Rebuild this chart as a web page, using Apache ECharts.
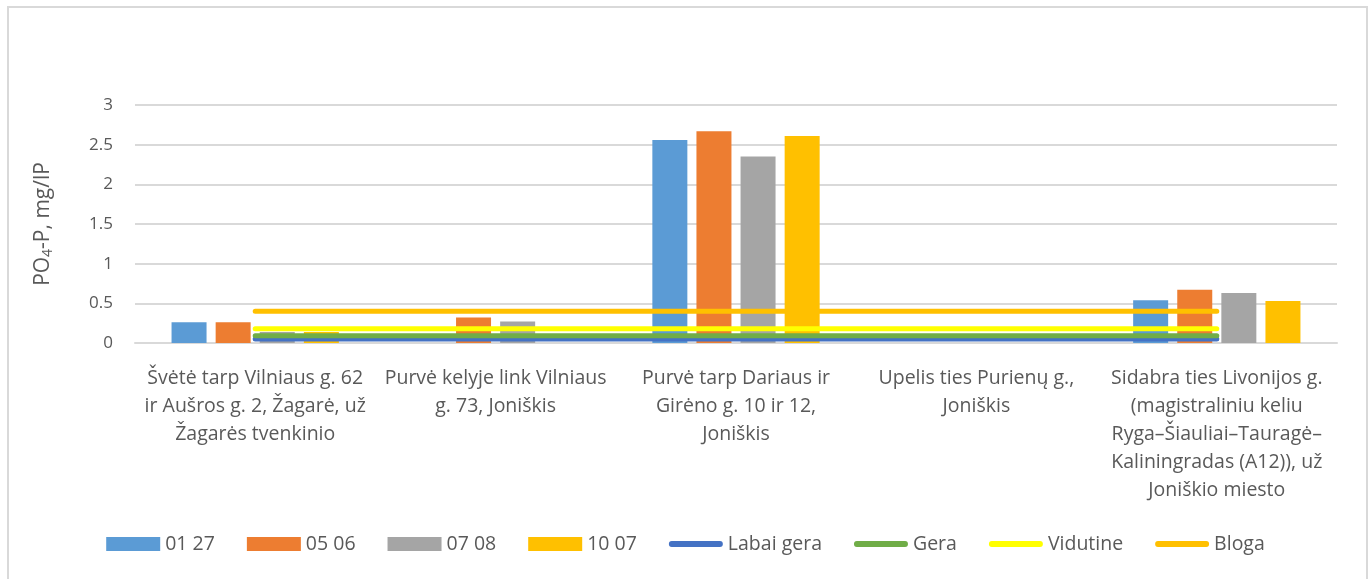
<!DOCTYPE html>
<html>
<head>
<meta charset="utf-8">
<script src="https://cdn.jsdelivr.net/npm/echarts@6/dist/echarts.min.js"></script>
<style>
  html, body { margin: 0; padding: 0; background: #fff; }
  #chart { width: 1371px; height: 579px; }
</style>
</head>
<body>
<div id="chart"></div>
<script>
// vietos (kategorijos)
const categories = [
  'Švėtė tarp Vilniaus g. 62\nir Aušros g. 2, Žagarė, už\nŽagarės tvenkinio',
  'Purvė kelyje link Vilniaus\ng. 73, Joniškis',
  'Purvė tarp Dariaus ir\nGirėno g. 10 ir 12,\nJoniškis',
  'Upelis ties Purienų g.,\nJoniškis',
  'Sidabra ties Livonijos g.\n(magistraliniu keliu\nRyga–Šiauliai–Tauragė–\nKaliningradas (A12)), už\nJoniškio miesto'
];
// matavimai
const d0127 = [0.26, 0, 2.56, 0, 0.54];
const d0506 = [0.26, 0.32, 2.67, 0, 0.67];
const d0708 = [0.14, 0.27, 2.35, 0, 0.63];
const d1007 = [0.14, 0, 2.61, 0, 0.53];
// klasiu ribos
const labaiGera = [0.05, 0.05, 0.05, 0.05, 0.05];
const gera = [0.09, 0.09, 0.09, 0.09, 0.09];
const vidutine = [0.18, 0.18, 0.18, 0.18, 0.18];
const bloga = [0.4, 0.4, 0.4, 0.4, 0.4];
const yTicks = [0, 0.5, 1, 1.5, 2, 2.5, 3];

window.onload = () => {
    let chart = echarts.init(document.getElementById('chart'));
    const font = '"Open Sans", sans-serif';
    const txt = '#595959';
    const lineIcon = 'path://M3,0 L53,0 A3,3 0 0 1 53,6 L3,6 A3,3 0 0 1 3,0 Z';

    function bar(name, data, color) {
        return {
            name: name, type: 'bar', data: data,
            barWidth: 35, barGap: '26%',
            itemStyle: { color: color }
        };
    }
    function line(name, data, color) {
        return {
            name: name, type: 'line', data: data,
            symbol: 'none',
            lineStyle: { color: color, width: 5, cap: 'round' },
            itemStyle: { color: color }
        };
    }

    let option = {
        animation: false,
        textStyle: { fontFamily: font },
        graphic: [{
            type: 'rect',
            shape: { x: 8, y: 7, width: 1359, height: 600 },
            style: { fill: 'none', stroke: '#d9d9d9', lineWidth: 2 }
        }],
        grid: { left: 135, right: 34, top: 105, bottom: 236 },
        legend: {
            bottom: 20,
            left: 'center',
            itemWidth: 54,
            itemHeight: 14,
            itemGap: 32,
            symbolKeepAspect: true,
            textStyle: { color: txt, fontSize: 19.5, fontFamily: font },
            data: [
                { name: '01 27', icon: 'rect' },
                { name: '05 06', icon: 'rect' },
                { name: '07 08', icon: 'rect' },
                { name: '10 07', icon: 'rect' },
                { name: 'Labai gera', icon: lineIcon },
                { name: 'Gera', icon: lineIcon },
                { name: 'Vidutine', icon: lineIcon },
                { name: 'Bloga', icon: lineIcon }
            ]
        },
        xAxis: {
            type: 'category',
            data: categories,
            axisLine: { lineStyle: { color: '#d9d9d9', width: 2 } },
            axisTick: { show: false },
            axisLabel: {
                interval: 0, color: txt, fontSize: 19.5, lineHeight: 28, margin: 21,
                fontFamily: font
            }
        },
        yAxis: {
            type: 'value',
            min: yTicks[0], max: yTicks[yTicks.length - 1], interval: 0.5,
            name: '{a|PO}{s|4}{a|-P, mg/lP}',
            nameLocation: 'middle',
            nameGap: 80,
            nameRotate: 90,
            nameTextStyle: {
                rich: {
                    a: { fontSize: 21, color: txt, fontFamily: font },
                    s: { fontSize: 14, color: txt, fontFamily: font, padding: [10, 0, 0, 0] }
                }
            },
            axisLabel: { color: txt, fontSize: 17, margin: 22, fontFamily: font },
            splitLine: { lineStyle: { color: '#d9d9d9', width: 2 } }
        },
        series: [
            bar('01 27', d0127, '#5B9BD5'),
            bar('05 06', d0506, '#ED7D31'),
            bar('07 08', d0708, '#A5A5A5'),
            bar('10 07', d1007, '#FFC000'),
            line('Labai gera', labaiGera, '#4472C4'),
            line('Gera', gera, '#70AD47'),
            line('Vidutine', vidutine, '#FFFF00'),
            line('Bloga', bloga, '#FFC000')
        ]
    };
    chart.setOption(option);
};
</script>
</body>
</html>
